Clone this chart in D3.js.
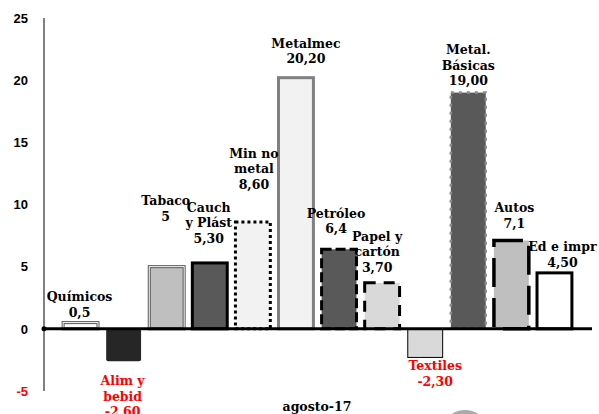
<!DOCTYPE html>
<html>
<head>
<meta charset="utf-8">
<script src="https://cdn.jsdelivr.net/npm/d3@7"></script>
<style>
  html, body { margin: 0; padding: 0; background: #fff; }
  svg { display: block; }
  .lbl { font-family: "DejaVu Serif", serif; font-weight: bold; font-size: 12.5px; }
  .tick { font-family: "Liberation Sans", Arial, sans-serif; font-weight: bold; font-size: 13px; }
</style>
</head>
<body>
<svg id="chart" width="599" height="414"></svg>
<script>
// Variación por sector, agosto-17
const categories = ["Químicos", "Alim y bebid", "Tabaco", "Cauch y Plást", "Min no metal", "Metalmec",
                    "Petróleo", "Papel y cartón", "Textiles", "Metal. Básicas", "Autos", "Ed e impr"];
const values = [0.5, -2.6, 5, 5.3, 8.6, 20.2, 6.4, 3.7, -2.3, 19.0, 7.1, 4.5];
const valueLabels = ["0,5", "-2,60", "5", "5,30", "8,60", "20,20", "6,4", "3,70", "-2,30", "19,00", "7,1", "4,50"];
const labelLines = [["Químicos"], ["Alim y", "bebid"], ["Tabaco"], ["Cauch", "y Plást"], ["Min no", "metal"],
                    ["Metalmec"], ["Petróleo"], ["Papel y", "cartón"], ["Textiles"], ["Metal.", "Básicas"],
                    ["Autos"], ["Ed e impr"]];
const yTicks = [-5, 0, 5, 10, 15, 20, 25];
const periodLabel = "agosto-17";

// Per-bar appearance
const barStyles = [
  { fill: "#ffffff", stroke: "#555", width: 3, inner: "#fff" },
  { fill: "#262626", stroke: "none", width: 0, rx: 2 },
  { fill: "#bfbfbf", stroke: "#555", width: 3, inner: "#fff" },
  { fill: "#595959", stroke: "#000", width: 3 },
  { fill: "#f2f2f2", stroke: "#000", width: 3, dash: "3,3" },
  { fill: "#f2f2f2", stroke: "#808080", width: 3 },
  { fill: "#595959", stroke: "#000", width: 3, dash: "10,4" },
  { fill: "#d9d9d9", stroke: "#000", width: 3, dash: "11,8" },
  { fill: "#d9d9d9", stroke: "#000", width: 1 },
  { fill: "#595959", stroke: "#8c8c8c", width: 2.5, dash: "3,5" },
  { fill: "#bfbfbf", stroke: "#000", width: 3.5, dash: "29,11" },
  { fill: "#ffffff", stroke: "#000", width: 3 }
];
// Label nudges: horizontal shift and gap between bar end and nearest text baseline
const labelNudge = [[-1, 6], [-1, 24], [-1, 46], [-1, 20], [1, 33], [10, 14.5],
                    [-3, 16], [-5, 11], [10, 13], [0, 7.5], [3, 13], [8, 6]];

const svg = d3.select("#chart");
const x = d3.scaleBand().domain(categories).range([59, 576]).paddingInner(0.19).paddingOuter(0.095);
const y = d3.scaleLinear().domain([-5, 25]).range([391, 18]);

// y axis line and labels
svg.append("line").attr("x1", 44).attr("x2", 44).attr("y1", y(25)).attr("y2", y(-5))
  .attr("stroke", "#808080").attr("stroke-width", 2);
svg.selectAll("text.tick").data(yTicks).join("text")
  .attr("class", "tick")
  .attr("x", 28).attr("y", d => y(d)).attr("dy", "0.36em")
  .attr("text-anchor", "end")
  .attr("fill", d => d < 0 ? "#ff0000" : "#000")
  .text(d => d);

// bars
const bars = svg.append("g");
values.forEach((v, i) => {
  const s = barStyles[i];
  const x0 = x(categories[i]), w = x.bandwidth();
  const top = y(Math.max(0, v)), h = Math.abs(y(v) - y(0));
  bars.append("rect")
    .attr("x", x0).attr("y", top).attr("width", w).attr("height", h)
    .attr("rx", s.rx || 0)
    .attr("fill", s.fill)
    .attr("stroke", s.stroke)
    .attr("stroke-width", s.width)
    .attr("stroke-dasharray", s.dash || null);
  if (s.inner) {
    bars.append("rect")
      .attr("x", x0).attr("y", top).attr("width", w).attr("height", h)
      .attr("fill", "none").attr("stroke", s.inner).attr("stroke-width", 1);
  }
});

// zero line
svg.append("line").attr("x1", 44).attr("x2", 592).attr("y1", y(0)).attr("y2", y(0))
  .attr("stroke", "#000").attr("stroke-width", 3);
svg.append("circle").attr("cx", 44).attr("cy", y(0)).attr("r", 2.5).attr("fill", "#000");

// data labels
const lineH = 15.5;
values.forEach((v, i) => {
  const lines = labelLines[i].concat([valueLabels[i]]);
  const cx = x(categories[i]) + x.bandwidth() / 2 + labelNudge[i][0];
  const neg = v < 0;
  const color = neg ? "#ff0000" : "#000";
  lines.forEach((t, k) => {
    const yy = neg
      ? y(v) + labelNudge[i][1] + k * lineH
      : y(v) - labelNudge[i][1] - (lines.length - 1 - k) * lineH;
    svg.append("text").attr("class", "lbl")
      .attr("x", cx).attr("y", yy)
      .attr("text-anchor", "middle")
      .attr("fill", color)
      .text(t);
  });
});

// period caption
svg.append("text").attr("class", "lbl")
  .attr("x", 317).attr("y", 411).attr("text-anchor", "middle")
  .attr("fill", "#000").text(periodLabel);

// partial ring at the bottom edge
svg.append("circle").attr("cx", 465).attr("cy", 434).attr("r", 21)
  .attr("fill", "none").attr("stroke", "#aaa").attr("stroke-width", 6);
</script>
</body>
</html>
